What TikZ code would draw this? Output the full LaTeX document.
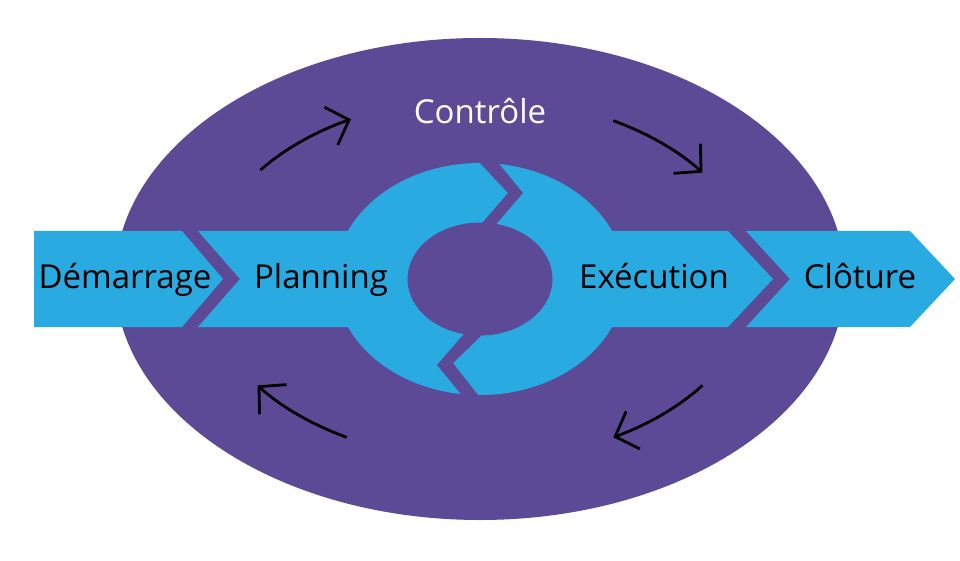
\documentclass[tikz,border=0pt]{standalone}
\usepackage{fontspec}
\setmainfont{Open Sans}
\usetikzlibrary{arrows.meta}
\definecolor{ovalpurple}{HTML}{5D4A96}
\definecolor{phaseblue}{HTML}{29ABE2}
\begin{document}
\begin{tikzpicture}[x=1pt,y=1pt,
  lbl/.style={font=\fontsize{33}{38}\selectfont, text=black, inner sep=0pt, anchor=base},
  cyc/.style={line width=2.8pt, black, -{Straight Barb[length=19pt,width=40pt]}}]
\useasboundingbox (0,0) rectangle (960,560);
\fill[white] (0,0) rectangle (960,560);
% big oval
\coordinate (c) at (480,281);
\fill[ovalpurple] (c) ellipse [x radius=365pt, y radius=241pt];
% start and end phases
\fill[phaseblue] (34,329) -- (182,329) -- (223,281) -- (182,233) -- (34,233) -- cycle;
\fill[phaseblue] (746,329) -- (910,329) -- (955,281) -- (910,233) -- (746,233) -- (790,281) -- cycle;
% middle band with ring
\fill[phaseblue] (198,329) -- (728,329) -- (773,281) -- (728,233) -- (198,233) -- (240,281) -- cycle;
\fill[phaseblue] (c) ellipse [x radius=145pt, y radius=116pt];
\fill[ovalpurple] (480,281) ellipse [x radius=72.5pt, y radius=56.5pt];
% breaks in the ring
\fill[ovalpurple] (469.7,408) -- (508,367) -- (474.4,328) -- (489.4,328) -- (523,367) -- (489.3,408) -- cycle;
\fill[ovalpurple] (471.7,235) -- (437,195) -- (469.9,155) -- (485.8,155) -- (453,197) -- (492.4,235) -- cycle;
% cycle arrows
\draw[cyc] (c) ++(143:275pt and 181pt) arc[start angle=143, end angle=118, x radius=275pt, y radius=181pt];
\draw[cyc] (c) ++(61:275pt and 181pt) arc[start angle=61, end angle=36, x radius=275pt, y radius=181pt];
\draw[cyc] (c) ++(-36:275pt and 181pt) arc[start angle=-36, end angle=-61, x radius=275pt, y radius=181pt];
\draw[cyc] (c) ++(-119:275pt and 181pt) arc[start angle=-119, end angle=-144, x radius=275pt, y radius=181pt];
% labels
\node[lbl] (dem) at (125,272) {Démarrage};
\node[lbl] (pla) at (321,272) {Planning};
\node[lbl] (exe) at (654,272) {Exécution};
\node[lbl] (clo) at (860,272) {Clôture};
\node[lbl, text=white] (con) at (480,436) {Contrôle};
\end{tikzpicture}
\end{document}
